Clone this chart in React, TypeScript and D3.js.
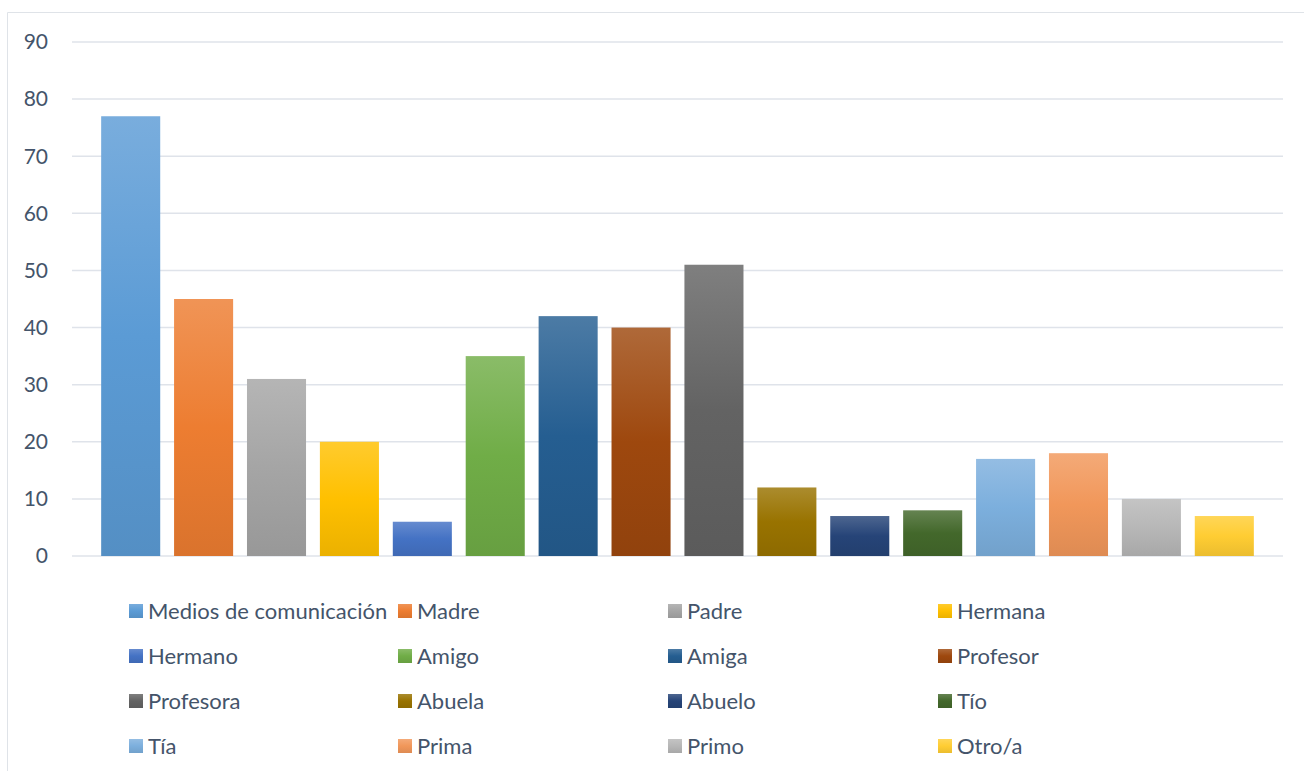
import React, { useEffect } from "react";
import * as d3 from "d3";

const categories = [
  "Medios de comunicación", "Madre", "Padre", "Hermana",
  "Hermano", "Amigo", "Amiga", "Profesor",
  "Profesora", "Abuela", "Abuelo", "Tío",
  "Tía", "Prima", "Primo", "Otro/a",
];
const values = [77, 45, 31, 20, 6, 35, 42, 40, 51, 12, 7, 8, 17, 18, 10, 7];
const colors = [
  "#5B9BD5", "#ED7D31", "#A5A5A5", "#FFC000",
  "#4472C4", "#70AD47", "#255E91", "#9E480E",
  "#636363", "#997300", "#264478", "#43682B",
  "#7CAFDD", "#F1975A", "#B7B7B7", "#FFCD33",
];
const yTicks = [0, 10, 20, 30, 40, 50, 60, 70, 80, 90];

const W = 1304;
const H = 771;
const FONT = "Lato, 'Open Sans', sans-serif";
const TEXT = "#44546a";

export default function App() {
  useEffect(() => {
    document.body.style.margin = "0";
  }, []);

  const x = d3
    .scaleBand<string>()
    .domain(categories)
    .range([72, 1283])
    .paddingInner(0.19)
    .paddingOuter(0.4);
  const y = d3.scaleLinear().domain([0, 90]).range([556, 42]);

  const light = (c: string) => d3.interpolateRgb(c, "#ffffff")(0.18);
  const dark = (c: string) => d3.interpolateRgb(c, "#000000")(0.08);

  const legendCols = [129, 398, 668, 938];
  const legendRows = [611, 656, 701, 746];

  return (
    <svg width={W} height={H} style={{ display: "block" }} fontFamily={FONT}>
      <defs>
        {colors.map((c, i) => (
          <linearGradient key={i} id={`g${i}`} x1="0" y1="0" x2="0" y2="1">
            <stop offset="0%" stopColor={light(c)} />
            <stop offset="50%" stopColor={c} />
            <stop offset="100%" stopColor={dark(c)} />
          </linearGradient>
        ))}
      </defs>
      <rect x={0} y={0} width={W} height={H} fill="#ffffff" />
      <path d={`M7.5,${H} V12.5 H${W}`} fill="none" stroke="#dfe3e8" strokeWidth={1} />
      {yTicks.map((t) => (
        <g key={t}>
          <line x1={72} x2={1283} y1={y(t)} y2={y(t)} stroke="#dfe3ea" strokeWidth={1.5} />
          <text x={48} y={y(t)} dy="0.35em" textAnchor="end" fontSize={21} fill={TEXT}>
            {t}
          </text>
        </g>
      ))}
      {categories.map((c, i) => (
        <rect
          key={c}
          x={x(c)}
          y={y(values[i])}
          width={x.bandwidth()}
          height={y(0) - y(values[i])}
          fill={`url(#g${i})`}
        />
      ))}
      {categories.map((c, i) => {
        const cx = legendCols[i % 4];
        const cy = legendRows[Math.floor(i / 4)];
        return (
          <g key={`l${c}`}>
            <rect x={cx} y={cy - 7} width={14} height={14} fill={`url(#g${i})`} />
            <text x={cx + 19} y={cy} dy="0.35em" fontSize={22} fill={TEXT}>
              {c}
            </text>
          </g>
        );
      })}
    </svg>
  );
}
